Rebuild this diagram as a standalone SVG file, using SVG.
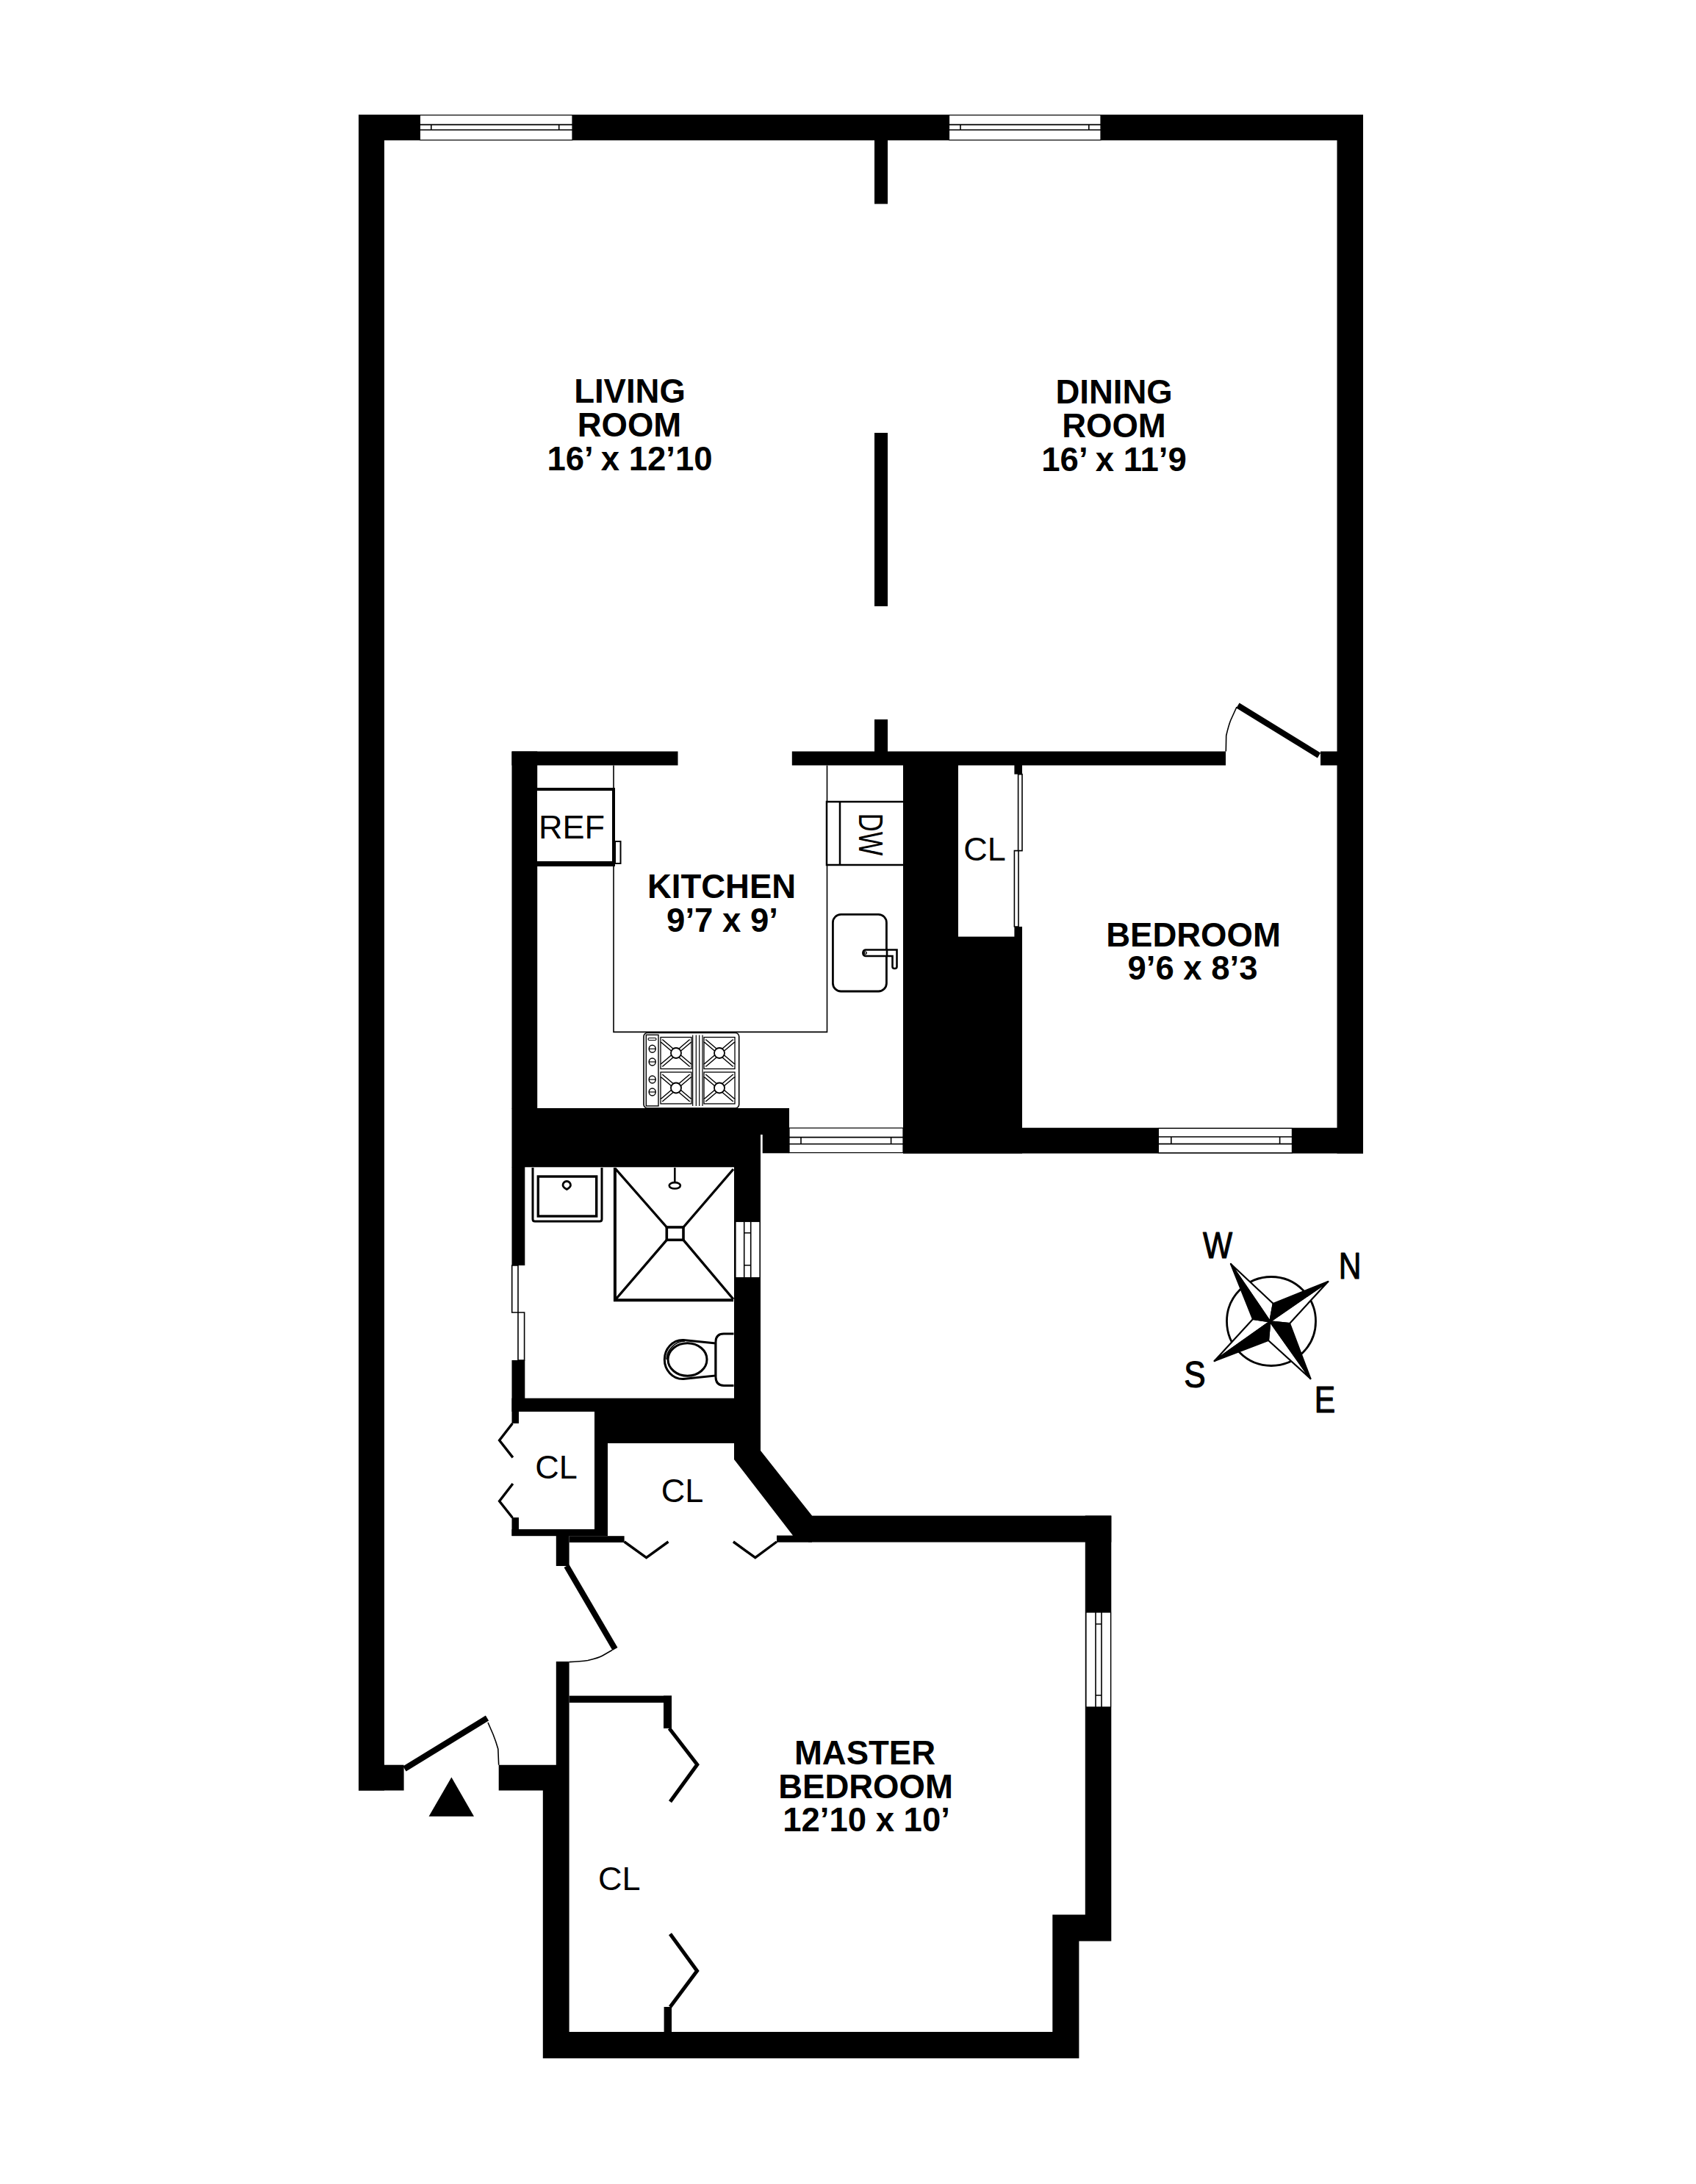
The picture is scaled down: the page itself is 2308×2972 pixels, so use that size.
<svg xmlns="http://www.w3.org/2000/svg" xmlns:xlink="http://www.w3.org/1999/xlink" width="2308" height="2972" viewBox="0 0 2308 2972">
<style>
.w{fill:#000;stroke:none}
.win{fill:#fff;stroke:#000;stroke-width:1.2}
.thin{fill:none;stroke:#000;stroke-width:1.6}
.leaf{fill:none;stroke:#000;stroke-width:8}
.cd{fill:none;stroke:#000;stroke-width:3.4;stroke-linejoin:miter}
.cd2{fill:none;stroke:#000;stroke-width:5;stroke-linejoin:miter}
.fx{fill:none;stroke:#000;stroke-width:3}
.fxw{fill:#fff;stroke:#000;stroke-width:3}
.sl{fill:#fff;stroke:#000;stroke-width:1.6}
.st{fill:none;stroke:#000;stroke-width:1.3}
text{font-family:"Liberation Sans",Arial,sans-serif;fill:#000}
.r{font-weight:700;font-size:45.5px;text-anchor:middle}
.c{font-size:45px;text-anchor:middle}
.d{font-size:50px;text-anchor:middle;stroke:#000;stroke-width:1.2;stroke-linejoin:round}
</style>
<defs>
<g id="burner">
<rect x="-21" y="-21.5" width="42" height="43" class="st"/>
<path d="M-20-17L20 17M20-17L-20 17" fill="none" stroke="#000" stroke-width="5.5"/>
<path d="M-20-17L20 17M20-17L-20 17" fill="none" stroke="#fff" stroke-width="2.6"/>
<circle r="7" fill="#fff" stroke="#000" stroke-width="1.8"/>
</g>
<g id="knob"><ellipse rx="4.5" ry="5" fill="#fff" stroke="#000" stroke-width="1.5"/><path d="M-4.5 0H4.5" stroke="#000" stroke-width="1.2"/></g>
</defs>
<rect width="2308" height="2972" fill="#fff"/>
<g id="walls">
<rect class="w" x="488" y="156" width="1367" height="35"/>
<rect class="w" x="488" y="156" width="35" height="2280.5"/>
<rect class="w" x="488" y="2401.7" width="61.6" height="34.8"/>
<rect class="w" x="1819.5" y="156" width="35.5" height="1413.6"/>
<rect class="w" x="1190" y="191" width="18" height="86.5"/>
<rect class="w" x="1190" y="589" width="18" height="236"/>
<rect class="w" x="1190" y="979" width="18" height="44"/>
<rect class="w" x="696.5" y="1022.5" width="226" height="19"/>
<rect class="w" x="1077.8" y="1022.5" width="590.2" height="19"/>
<rect class="w" x="1797" y="1022.5" width="23" height="19"/>
<rect class="w" x="696.5" y="1022.5" width="34.7" height="486"/>
<rect class="w" x="696.5" y="1508" width="338.5" height="80.3"/>
<rect class="w" x="1035" y="1508" width="39" height="36"/>
<rect class="w" x="1037.7" y="1544" width="36.3" height="25.3"/>
<rect class="w" x="1229" y="1041" width="75" height="528.6"/>
<rect class="w" x="1304" y="1274.6" width="87" height="295"/>
<rect class="w" x="1380.4" y="1041" width="10.6" height="12.6"/>
<rect class="w" x="1380.4" y="1261" width="10.6" height="14"/>
<rect class="w" x="1229" y="1534.7" width="626" height="34.9"/>
<rect class="w" x="696.5" y="1588" width="17.8" height="134"/>
<rect class="w" x="696.5" y="1851" width="17.8" height="70"/>
<rect class="w" x="696.5" y="1902.7" width="338.5" height="18.3"/>
<rect class="w" x="809" y="1921" width="226" height="43"/>
<rect class="w" x="999" y="1588" width="36" height="376"/>
<rect class="w" x="696.5" y="1921" width="9.5" height="16"/>
<rect class="w" x="696.5" y="2065" width="9.5" height="25"/>
<rect class="w" x="696.5" y="2081" width="130.5" height="9.2"/>
<rect class="w" x="809" y="1921" width="18" height="169"/>
<rect class="w" x="756.8" y="2090" width="17.8" height="41"/>
<rect class="w" x="774.6" y="2090.2" width="75" height="8.8"/>
<polygon class="w" points="999,1964 1035,1964 1035,1974 1105,2062.6 1105,2098.8 1057,2098.8 1057,2089.4 1079,2089.4 999,1986"/>
<rect class="w" x="1100" y="2062.6" width="412.3" height="36"/>
<polygon class="w" points="1476.8,2062.6 1512.3,2062.6 1512.3,2641.4 1468.4,2641.4 1468.4,2801 738.8,2801 738.8,2436.5 678.7,2436.5 678.7,2401.7 756.8,2401.7 756.8,2261 774.6,2261 774.6,2765 1432.3,2765 1432.3,2605.5 1476.8,2605.5"/>
<rect class="w" x="774.6" y="2307.6" width="139.4" height="9.4"/>
<rect class="w" x="903" y="2307.6" width="11" height="44.4"/>
<rect class="w" x="903.6" y="2731" width="10.4" height="34"/>
</g>
<g id="windows">
<g id="window-living">
<rect class="win" x="571.4" y="156.6" width="207.6" height="34"/>
<path class="thin" d="M571.4 169.6H779M571.4 176.8H779M586.8 169.6V176.8M760.7 169.6V176.8"/>
</g>
<g id="window-dining">
<rect class="win" x="1291.5" y="156.6" width="206.5" height="34"/>
<path class="thin" d="M1291.5 169.6H1498M1291.5 176.8H1498M1307 169.6V176.8M1481.8 169.6V176.8"/>
</g>
<g id="window-kitchen">
<rect class="win" x="1074" y="1535" width="155" height="33.6"/>
<path class="thin" d="M1074 1547.6H1229M1074 1556.8H1229M1090 1547.6V1556.8M1212.6 1547.6V1556.8"/>
</g>
<g id="window-bedroom">
<rect class="win" x="1576.4" y="1535.5" width="182" height="33.3"/>
<path class="thin" d="M1576.4 1547H1758.4M1576.4 1556.6H1758.4M1593.8 1547V1556.6M1741.6 1547V1556.6"/>
</g>
<g id="window-bath">
<rect class="win" x="1001" y="1662.3" width="33" height="76.4"/>
<path class="thin" d="M1012.7 1662.3V1738.7M1021.7 1662.3V1738.7M1012.7 1677.7H1021.7M1012.7 1721.7H1021.7"/>
</g>
<g id="window-master">
<rect class="win" x="1478" y="2194" width="33.5" height="129"/>
<path class="thin" d="M1491 2194V2323M1499 2194V2323M1491 2210H1499M1491 2307H1499"/>
</g>
</g>
<g id="doors">
<path class="leaf" d="M1684.5 960L1795 1028"/>
<path class="thin" d="M1668.3 1022.5L1668.7 1001Q1672 987 1674.8 980L1683 962"/>
<path class="leaf" d="M771 2131L837 2244"/>
<path class="thin" d="M774.6 2261.6Q790 2261 800 2259.5Q815 2256 820 2253L833 2245.5"/>
<path class="leaf" d="M550.5 2407L663 2338"/>
<path class="thin" d="M664 2344L671 2360Q675 2370 677.8 2380L678.7 2401.7"/>
<path class="cd" d="M697.4 1937L679.6 1960L697.9 1983.4M697.9 2019L679.6 2042.7L697.4 2065.3"/>
<path class="cd" d="M849.6 2098L879.6 2119.7L909.5 2098M997.9 2098L1027.8 2119.7L1057 2098"/>
<path class="cd2" d="M910.8 2352L948.8 2401.3L912 2451.8M912 2631.7L948.6 2682L912 2731"/>
<path class="sl" d="M1385.6 1053.6H1391V1157.6H1385.6ZM1380.4 1157.6H1386V1261H1380.4Z"/>
<path class="sl" d="M696.7 1722H705V1786H696.7ZM705 1786H713.6V1851H705Z"/>
</g>
<g id="kitchen-fixtures">
<path class="thin" d="M835 1041.5V1404.4H1125.5V1041.5"/>
<g id="ref">
<path d="M731 1074H835V1177H731" fill="#fff" stroke="#000" stroke-width="4"/>
<path d="M731 1174H835" stroke="#000" stroke-width="4" fill="none"/>
<rect x="837" y="1145" width="7.5" height="30" fill="#fff" stroke="#000" stroke-width="2"/>
<text class="c" x="778" y="1141">REF</text>
</g>
<g id="dw">
<path d="M1229 1091H1125V1177H1229" fill="#fff" stroke="#000" stroke-width="2.5"/>
<path d="M1143 1091V1177" stroke="#000" stroke-width="2.5" fill="none"/>
<text font-size="46" text-anchor="middle" transform="translate(1169 1135.5) rotate(90) scale(0.75 1)">DW</text>
</g>
<g id="stove">
<rect x="876" y="1405.5" width="129.7" height="102.5" rx="5" fill="#fff" stroke="#000" stroke-width="1.6"/>
<rect x="879.3" y="1408.3" width="16.7" height="96.7" fill="none" stroke="#000" stroke-width="1.4"/>
<rect x="882" y="1412.5" width="11" height="3" rx="1.5" fill="#fff" stroke="#000" stroke-width="1.2"/>
<use xlink:href="#knob" href="#knob" x="887.7" y="1427.3"/>
<use xlink:href="#knob" href="#knob" x="887.7" y="1445"/>
<use xlink:href="#knob" href="#knob" x="887.7" y="1469"/>
<use xlink:href="#knob" href="#knob" x="887.7" y="1486"/>
<path d="M942.7 1408.5V1505M947.3 1408.5V1505M951.7 1408.5V1505M956 1408.5V1505" stroke="#000" stroke-width="1.2" fill="none"/>
<use xlink:href="#burner" href="#burner" x="920" y="1433"/>
<use xlink:href="#burner" href="#burner" x="979" y="1433"/>
<use xlink:href="#burner" href="#burner" x="920" y="1480.5"/>
<use xlink:href="#burner" href="#burner" x="979" y="1480.5"/>
</g>
<g id="kitchen-sink">
<rect x="1133.4" y="1244.4" width="73" height="104.6" rx="11" fill="#fff" stroke="#000" stroke-width="2.8"/>
<path d="M1178 1292.5H1220.5V1315.5Q1220.5 1318 1217.5 1318Q1214.5 1318 1214.5 1315.5V1301H1178A4.3 4.3 0 0 1 1178 1292.5Z" fill="#fff" stroke="#000" stroke-width="2.6"/>
<path d="M1207 1301.5V1292" stroke="#000" stroke-width="2.6"/>
<circle cx="1177.7" cy="1296.7" r="1.6" fill="#fff" stroke="#000" stroke-width="1.4"/>
</g>
</g>
<g id="bath-fixtures">
<path class="fx" d="M725 1589V1659Q725 1662 728 1662H816Q819 1662 819 1659V1589"/>
<rect x="732.3" y="1601" width="79.4" height="54" fill="none" stroke="#000" stroke-width="3.4"/>
<path d="M771.3 1607.5A5.2 5.2 0 0 1 776.5 1612.7Q776.5 1615.5 771.3 1618.5Q766 1615.5 766 1612.7A5.2 5.2 0 0 1 771.3 1607.5Z" fill="#fff" stroke="#000" stroke-width="2.8"/>
<path d="M836.9 1589V1769.3H998" fill="none" stroke="#000" stroke-width="4"/>
<path d="M838 1591L907.3 1670M998 1591L930 1670M838 1768L907.3 1687.3M998 1768L930 1687.3" fill="none" stroke="#000" stroke-width="3.4"/>
<rect x="907.3" y="1670" width="22.7" height="17.3" fill="#fff" stroke="#000" stroke-width="3.6"/>
<path d="M918.3 1589V1609" stroke="#000" stroke-width="2.6" fill="none"/>
<ellipse cx="918.3" cy="1613.3" rx="7.6" ry="4.2" fill="#fff" stroke="#000" stroke-width="2.6"/>
<path class="fxw" d="M974 1828L930 1823.5C915 1823 904.3 1836 904.3 1850C904.3 1864 915 1877 930 1876.5L974 1872Z"/>
<ellipse cx="935.5" cy="1850" rx="26.5" ry="22.3" fill="#fff" stroke="#000" stroke-width="3"/>
<path d="M907 1850C907 1838 918 1825 932 1825" fill="none" stroke="#000" stroke-width="1.6"/>
<path d="M998.5 1815H985Q974 1815 974 1826V1874Q974 1885 985 1885.5H998.5" fill="#fff" stroke="#000" stroke-width="3"/>
</g>
<g id="entry-arrow"><polygon class="w" points="614.4,2418.6 645,2471.8 583.6,2471.8"/></g>
<g id="compass">
<circle cx="1730" cy="1798" r="60.5" fill="none" stroke="#000" stroke-width="2.8"/>
<path d="M1675 1720L1732.7 1774L1728.3 1798.3Z" fill="#fff" stroke="#000" stroke-width="2.2" stroke-linejoin="round"/>
<path d="M1807.3 1744L1755 1801L1728.3 1798.3Z" fill="#fff" stroke="#000" stroke-width="2.2" stroke-linejoin="round"/>
<path d="M1783.3 1876L1726 1824L1728.3 1798.3Z" fill="#fff" stroke="#000" stroke-width="2.2" stroke-linejoin="round"/>
<path d="M1652.7 1852L1705 1795L1728.3 1798.3Z" fill="#fff" stroke="#000" stroke-width="2.2" stroke-linejoin="round"/>
<path d="M1675 1720L1705 1795L1728.3 1798.3Z" fill="#000" stroke="#000" stroke-width="2.2" stroke-linejoin="round"/>
<path d="M1807.3 1744L1732.7 1774L1728.3 1798.3Z" fill="#000" stroke="#000" stroke-width="2.2" stroke-linejoin="round"/>
<path d="M1783.3 1876L1755 1801L1728.3 1798.3Z" fill="#000" stroke="#000" stroke-width="2.2" stroke-linejoin="round"/>
<path d="M1652.7 1852L1726 1824L1728.3 1798.3Z" fill="#000" stroke="#000" stroke-width="2.2" stroke-linejoin="round"/>
<text class="d" transform="translate(1657 1711.7) scale(.85 1)">W</text>
<text class="d" transform="translate(1837 1740) scale(.85 1)">N</text>
<text class="d" transform="translate(1626 1888) scale(.88 1)">S</text>
<text class="d" transform="translate(1803 1921.7) scale(.85 1)">E</text>
</g>
<g id="labels">
<text class="r" x="857" y="548">LIVING</text>
<text class="r" x="856.5" y="594">ROOM</text>
<text class="r" x="857" y="639.6">16’ x 12’10</text>
<text class="r" x="1516" y="548.5">DINING</text>
<text class="r" x="1516" y="595">ROOM</text>
<text class="r" x="1516" y="641">16’ x 11’9</text>
<text class="r" x="982" y="1222">KITCHEN</text>
<text class="r" x="983" y="1267.8">9’7 x 9’</text>
<text class="r" x="1624" y="1287.6">BEDROOM</text>
<text class="r" x="1623" y="1332.7">9’6 x 8’3</text>
<text class="r" x="1177" y="2401">MASTER</text>
<text class="r" x="1178" y="2446.5">BEDROOM</text>
<text class="r" x="1179" y="2492">12’10 x 10’</text>
<text class="c" x="1340" y="1170.6">CL</text>
<text class="c" x="757" y="2012">CL</text>
<text class="c" x="928.5" y="2044">CL</text>
<text class="c" x="842.8" y="2571.6">CL</text>
</g>
</svg>
